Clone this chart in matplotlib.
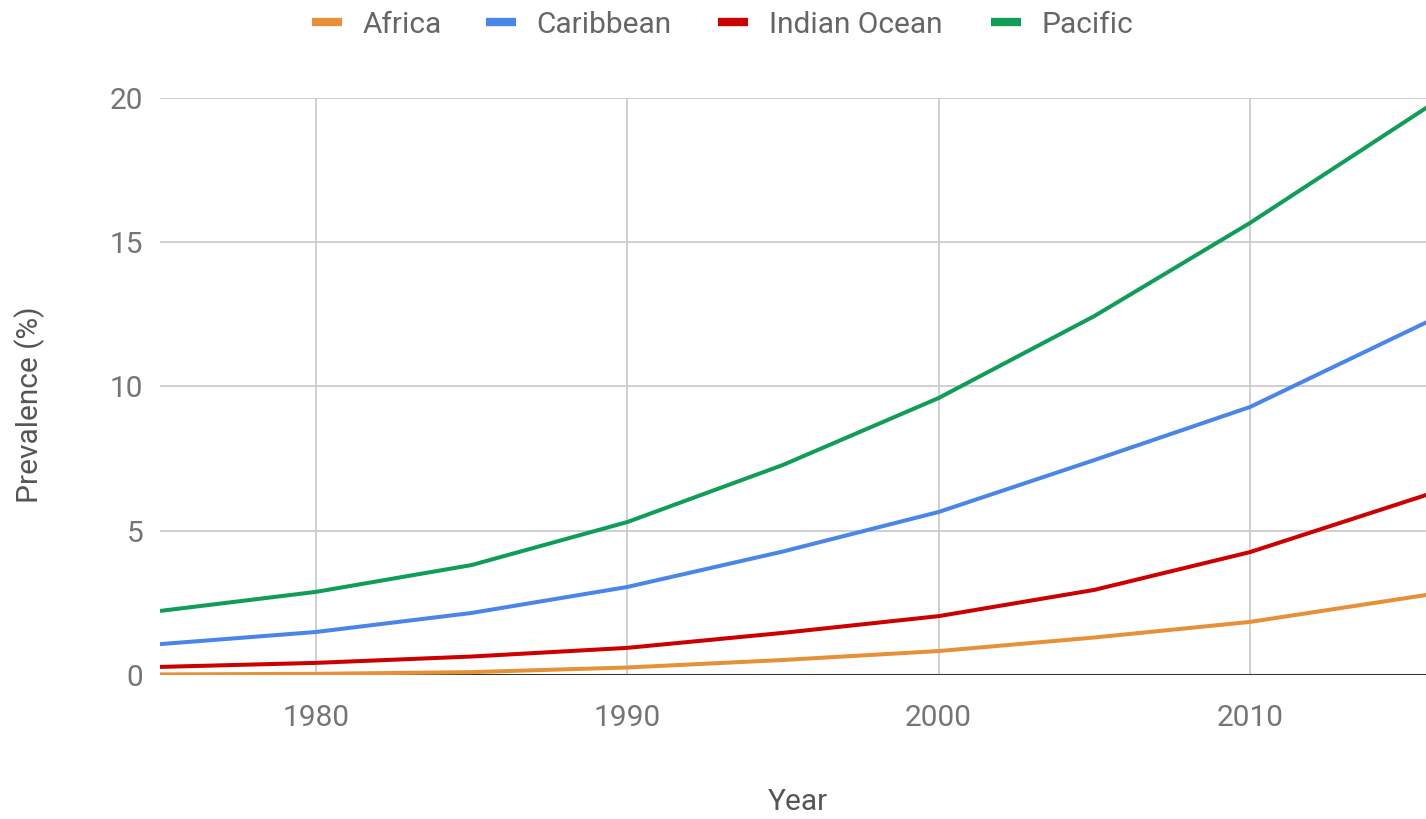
import matplotlib
matplotlib.use("Agg")
import matplotlib.pyplot as plt
from matplotlib.lines import Line2D

years = [1975, 1980, 1985, 1990, 1995, 2000, 2005, 2010, 2016]
africa = [0.02, 0.04, 0.10, 0.26, 0.52, 0.83, 1.30, 1.84, 2.83]
caribbean = [1.07, 1.49, 2.15, 3.05, 4.28, 5.65, 7.45, 9.29, 12.40]
indian_ocean = [0.28, 0.42, 0.64, 0.94, 1.46, 2.04, 2.95, 4.26, 6.36]
pacific = [2.22, 2.88, 3.81, 5.30, 7.28, 9.60, 12.44, 15.67, 19.90]

series_names = ["Africa", "Caribbean", "Indian Ocean", "Pacific"]
series_values = [africa, caribbean, indian_ocean, pacific]
colors = ["#e69138", "#4a86e8", "#cc0000", "#0f9d58"]

x_ticks = [1980, 1990, 2000, 2010]
y_ticks = [0, 5, 10, 15, 20]

plt.rcParams['font.family'] = ['Roboto', 'DejaVu Sans']

W, H = 1426, 819
fig = plt.figure(figsize=(W / 100, H / 100), dpi=100)
ax = fig.add_axes([160 / W, 1 - 675 / H, 1 - 160 / W, (675 - 98) / H])

for name, vals, c in zip(series_names, series_values, colors):
    ax.plot(years, vals, color=c, lw=2.9, label=name, solid_capstyle='butt', zorder=3)

ax.set_xlim(1975.0, 2015.65)
ax.set_ylim(0, 20)
ax.set_xticks(x_ticks)
ax.set_yticks(y_ticks)
ax.set_xticklabels([str(t) for t in x_ticks])
ax.set_yticklabels([str(t) for t in y_ticks])
ax.grid(True, color="#cccccc", lw=1.3, zorder=0)
ax.axhline(0, color="#333333", lw=2.2, zorder=2)
for s in ax.spines.values():
    s.set_visible(False)
FS = 21.5
ax.tick_params(axis='both', length=0, labelsize=FS, labelcolor="#757575")
ax.tick_params(axis='x', pad=21)
ax.tick_params(axis='y', pad=12)

fig.text(798 / W, 1 - 802 / H, "Year", ha='center', va='center', fontsize=FS, color="#555555")
fig.text(30 / W, 1 - 405 / H, "Prevalence (%)", ha='center', va='center', rotation=90,
         fontsize=FS, color="#555555")

# legend entries placed along the top
marker_x = [312, 486, 718, 991]
text_x = [363, 536, 769, 1041]
ly = 1 - 22 / H
for name, c, mx, tx in zip(series_names, colors, marker_x, text_x):
    fig.add_artist(Line2D([mx / W, (mx + 30) / W], [ly, ly], transform=fig.transFigure,
                          color=c, lw=6, solid_capstyle='butt'))
    fig.text(tx / W, ly, name, ha='left', va='center_baseline', fontsize=FS, color="#666666")

fig.savefig("out.png", dpi=100)
